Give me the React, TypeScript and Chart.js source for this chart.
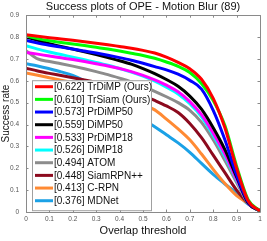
import { useEffect, useRef } from "react";
import { Chart, registerables } from "chart.js";

Chart.register(...registerables);

const thresholds = [0, 0.05, 0.1, 0.15, 0.2, 0.25, 0.3, 0.35, 0.4, 0.45, 0.5, 0.55, 0.6, 0.65, 0.7, 0.75, 0.8, 0.85, 0.9, 0.95, 1];

const trdimp = [0.811, 0.804, 0.797, 0.791, 0.785, 0.779, 0.772, 0.765, 0.757, 0.749, 0.739, 0.727, 0.708, 0.684, 0.655, 0.607, 0.52, 0.385, 0.2, 0.05, 0.005];
const trsiam = [0.805, 0.793, 0.783, 0.775, 0.768, 0.761, 0.753, 0.745, 0.736, 0.726, 0.716, 0.703, 0.686, 0.666, 0.638, 0.588, 0.51, 0.395, 0.21, 0.055, 0.005];
const prdimp50 = [0.785, 0.773, 0.763, 0.754, 0.745, 0.736, 0.727, 0.717, 0.706, 0.694, 0.68, 0.665, 0.65, 0.63, 0.602, 0.562, 0.465, 0.33, 0.17, 0.045, 0.005];
const dimp50 = [0.8, 0.785, 0.77, 0.757, 0.745, 0.733, 0.72, 0.706, 0.692, 0.676, 0.656, 0.633, 0.606, 0.575, 0.53, 0.47, 0.385, 0.285, 0.16, 0.04, 0.005];
const prdimp18 = [0.73, 0.722, 0.713, 0.705, 0.697, 0.688, 0.678, 0.668, 0.656, 0.642, 0.625, 0.604, 0.58, 0.55, 0.505, 0.445, 0.36, 0.265, 0.15, 0.04, 0.005];
const dimp18 = [0.76, 0.745, 0.732, 0.72, 0.708, 0.696, 0.684, 0.671, 0.656, 0.64, 0.621, 0.598, 0.571, 0.54, 0.495, 0.435, 0.35, 0.255, 0.145, 0.04, 0.005];
const atom = [0.738, 0.7, 0.688, 0.678, 0.667, 0.655, 0.642, 0.628, 0.612, 0.595, 0.575, 0.552, 0.527, 0.5, 0.465, 0.41, 0.33, 0.235, 0.135, 0.04, 0.005];
const siamrpn = [0.658, 0.645, 0.634, 0.624, 0.614, 0.604, 0.593, 0.581, 0.568, 0.552, 0.533, 0.51, 0.485, 0.455, 0.405, 0.34, 0.26, 0.18, 0.1, 0.04, 0.005];
const crpn = [0.636, 0.625, 0.614, 0.603, 0.592, 0.58, 0.567, 0.552, 0.536, 0.516, 0.493, 0.467, 0.425, 0.38, 0.33, 0.265, 0.195, 0.13, 0.075, 0.04, 0.005];
const mdnet = [0.678, 0.668, 0.655, 0.641, 0.625, 0.6, 0.568, 0.533, 0.497, 0.46, 0.424, 0.39, 0.353, 0.316, 0.273, 0.222, 0.172, 0.128, 0.086, 0.035, 0.005];

const seriesLabels = [
  "[0.622] TrDiMP (Ours)",
  "[0.610] TrSiam (Ours)",
  "[0.573] PrDiMP50",
  "[0.559] DiMP50",
  "[0.533] PrDiMP18",
  "[0.526] DiMP18",
  "[0.494] ATOM",
  "[0.448] SiamRPN++",
  "[0.413] C-RPN",
  "[0.376] MDNet",
];
const seriesValues = [trdimp, trsiam, prdimp50, dimp50, prdimp18, dimp18, atom, siamrpn, crpn, mdnet];
const seriesColors = ["#ff0000", "#00ff00", "#0000ff", "#000000", "#ff00ff", "#00ffff", "#8c8c8c", "#8c0a1e", "#ff8a33", "#1ba1e6"];

const xTickValues = [0, 0.1, 0.2, 0.3, 0.4, 0.5, 0.6, 0.7, 0.8, 0.9, 1];
const xTickLabels = ["0", "0.1", "0.2", "0.3", "0.4", "0.5", "0.6", "0.7", "0.8", "0.9", "1"];
const yTickValues = [0, 0.1, 0.2, 0.3, 0.4, 0.5, 0.6, 0.7, 0.8, 0.9];
const yTickLabels = ["0", "0.1", "0.2", "0.3", "0.4", "0.5", "0.6", "0.7", "0.8", "0.9"];

const FONT = "'Liberation Sans', Arial, Helvetica, sans-serif";
const AXIS_COLOR = "#8a8a8a";

const boxPlugin = {
  id: "matlabBox",
  afterDatasetsDraw(chart: any) {
    const { ctx, chartArea } = chart;
    const { left, right, top, bottom } = chartArea;
    const xs = chart.scales.x;
    const ys = chart.scales.y;
    ctx.save();
    ctx.strokeStyle = AXIS_COLOR;
    ctx.lineWidth = 1;
    ctx.beginPath();
    ctx.rect(Math.round(left) + 0.5, Math.round(top) + 0.5, Math.round(right - left), Math.round(bottom - top));
    ctx.stroke();
    const tl = 2.5;
    ctx.beginPath();
    xTickValues.forEach((v) => {
      const px = Math.round(xs.getPixelForValue(v)) + 0.5;
      ctx.moveTo(px, bottom);
      ctx.lineTo(px, bottom - tl);
      ctx.moveTo(px, top);
      ctx.lineTo(px, top + tl);
    });
    yTickValues.forEach((v) => {
      const py = Math.round(ys.getPixelForValue(v)) + 0.5;
      ctx.moveTo(left, py);
      ctx.lineTo(left + tl, py);
      ctx.moveTo(right, py);
      ctx.lineTo(right - tl, py);
    });
    ctx.stroke();
    ctx.restore();
  },
  afterDraw(chart: any) {
    const { ctx, chartArea } = chart;
    const bx = chartArea.left + 6;
    const by = chartArea.top + 65;
    const bw = 119;
    const bh = 130;
    ctx.save();
    ctx.fillStyle = "#ffffff";
    ctx.fillRect(bx, by, bw, bh);
    ctx.strokeStyle = "#a0a0a0";
    ctx.lineWidth = 1;
    ctx.strokeRect(bx + 0.5, by + 0.5, bw, bh);
    ctx.font = `10px ${FONT}`;
    ctx.textBaseline = "middle";
    ctx.textAlign = "left";
    const rowH = 12.67;
    chart.data.datasets.forEach((ds: any, i: number) => {
      const y = by + 6.5 + i * rowH;
      ctx.strokeStyle = ds.borderColor;
      ctx.lineWidth = 3;
      ctx.beginPath();
      ctx.moveTo(bx + 3, y);
      ctx.lineTo(bx + 21, y);
      ctx.stroke();
      ctx.fillStyle = "#111111";
      ctx.fillText(ds.label, bx + 22, y + 0.5);
    });
    ctx.restore();
  },
};

export default function App() {
  const ref = useRef<HTMLCanvasElement | null>(null);
  useEffect(() => {
    document.body.style.margin = "0";
    const canvas = ref.current;
    if (!canvas) return;
    const datasets = seriesLabels.map((label, i) => ({
      label,
      data: thresholds.map((t, j) => ({ x: t, y: seriesValues[i][j] })),
      borderColor: seriesColors[i],
      backgroundColor: seriesColors[i],
      borderWidth: 3,
      pointRadius: 0,
      fill: false,
      cubicInterpolationMode: "monotone" as const,
    }));
    const chart = new Chart(canvas, {
      type: "line",
      data: { datasets },
      plugins: [boxPlugin],
      options: {
        responsive: false,
        animation: false,
        layout: { padding: { top: 0, right: 7, left: 0, bottom: 0 } },
        plugins: {
          legend: { display: false },
          tooltip: { enabled: false },
          title: {
            display: true,
            text: "Success plots of OPE - Motion Blur (89)",
            color: "#111111",
            fullSize: false,
            font: { family: FONT, size: 11, weight: "normal" },
            padding: { top: 0, bottom: 2 },
          },
        },
        scales: {
          x: {
            type: "linear",
            min: 0,
            max: 1,
            grid: { display: false, drawTicks: false },
            border: { display: false },
            afterBuildTicks: (scale: any) => {
              scale.ticks = xTickValues.map((v) => ({ value: v }));
            },
            afterFit: (scale: any) => {
              scale.height = 29;
            },
            ticks: {
              padding: 3,
              maxRotation: 0,
              autoSkip: false,
              color: "#555555",
              font: { family: FONT, size: 6.5 },
              callback: (_v: any, i: number) => xTickLabels[i],
            },
            title: {
              display: true,
              text: "Overlap threshold",
              color: "#111111",
              font: { family: FONT, size: 11 },
              padding: { top: 0, bottom: 3 },
            },
          },
          y: {
            type: "linear",
            min: 0,
            max: 0.9,
            grid: { display: false, drawTicks: false },
            border: { display: false },
            afterBuildTicks: (scale: any) => {
              scale.ticks = yTickValues.map((v) => ({ value: v }));
            },
            afterFit: (scale: any) => {
              scale.width = 26;
            },
            ticks: {
              padding: 7,
              autoSkip: false,
              color: "#555555",
              font: { family: FONT, size: 6.5 },
              callback: (_v: any, i: number) => yTickLabels[i],
            },
            title: {
              display: true,
              text: "Success rate",
              color: "#111111",
              font: { family: FONT, size: 10 },
              padding: { top: 0, bottom: 0 },
            },
          },
        },
      },
    });
    return () => chart.destroy();
  }, []);
  return (
    <div style={{ position: "absolute", left: 0, top: 0, width: 267, height: 241 }}>
      <canvas ref={ref} width={267} height={241} style={{ width: 267, height: 241, display: "block" }} />
    </div>
  );
}
